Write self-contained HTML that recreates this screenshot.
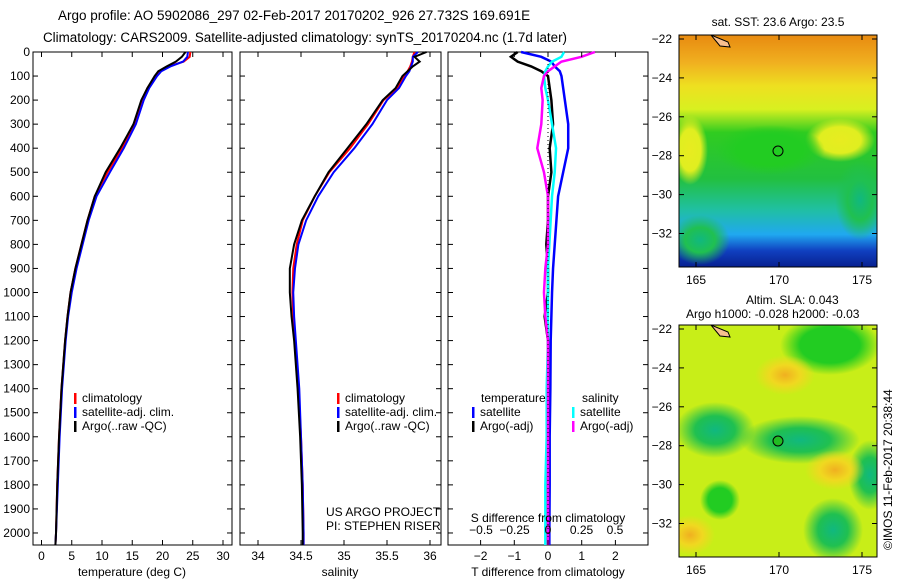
<!DOCTYPE html>
<html><head><meta charset="utf-8">
<style>
body{margin:0;background:#fff;width:900px;height:580px;overflow:hidden;font-family:"Liberation Sans",sans-serif}
svg text{font-family:"Liberation Sans",sans-serif;font-size:12px;fill:#000}
</style></head>
<body>
<svg id="chart" width="900" height="580" xmlns="http://www.w3.org/2000/svg">
<defs>
<linearGradient id="sstg" x1="0" y1="0" x2="0" y2="1">
<stop offset="0" stop-color="#e88a10"/><stop offset="0.12" stop-color="#f0b020"/><stop offset="0.22" stop-color="#eee020"/>
<stop offset="0.32" stop-color="#d8f020"/><stop offset="0.42" stop-color="#30cc20"/><stop offset="0.62" stop-color="#22c040"/>
<stop offset="0.75" stop-color="#20c0a0"/><stop offset="0.86" stop-color="#20a8f0"/><stop offset="0.93" stop-color="#1040c0"/><stop offset="1" stop-color="#082090"/>
</linearGradient>
<radialGradient id="gg"><stop offset="0" stop-color="#10b880"/><stop offset="0.5" stop-color="#20c050"/><stop offset="1" stop-color="#20c050" stop-opacity="0"/></radialGradient>
<radialGradient id="yy"><stop offset="0" stop-color="#f0b020"/><stop offset="0.5" stop-color="#f0d820"/><stop offset="1" stop-color="#f0d820" stop-opacity="0"/></radialGradient>
<radialGradient id="ly"><stop offset="0" stop-color="#e8ec20"/><stop offset="0.6" stop-color="#e0ee20"/><stop offset="1" stop-color="#e0ee20" stop-opacity="0"/></radialGradient>
<radialGradient id="lg"><stop offset="0" stop-color="#22cc22"/><stop offset="0.6" stop-color="#22cc22"/><stop offset="1" stop-color="#22cc22" stop-opacity="0"/></radialGradient>
<clipPath id="c1"><rect x="679" y="35" width="198" height="232"/></clipPath>
<clipPath id="c2"><rect x="679" y="325" width="198" height="232"/></clipPath>
</defs>
<text x="58" y="20" style="font-size:13.5px">Argo profile: AO 5902086_297 02-Feb-2017 20170202_926 27.732S 169.691E</text>
<text x="43" y="42" style="font-size:13.4px">Climatology: CARS2009. Satellite-adjusted climatology: synTS_20170204.nc (1.7d later)</text>

<g clip-path="url(#c1)">
<rect x="679" y="35" width="198" height="232" fill="url(#sstg)"/>
<ellipse cx="690" cy="150" rx="18" ry="35" fill="url(#ly)"/>
<ellipse cx="840" cy="140" rx="35" ry="22" fill="url(#ly)"/>
<ellipse cx="770" cy="150" rx="55" ry="25" fill="url(#lg)"/>
<ellipse cx="700" cy="240" rx="30" ry="25" fill="url(#gg)"/>
<ellipse cx="860" cy="200" rx="25" ry="40" fill="url(#gg)"/>
<path d="M711 35 L728 42 L730 47 L720 46 Z" fill="#f8c090" stroke="#000"/>
<circle cx="778" cy="151" r="5" fill="none" stroke="#000"/>
</g>
<rect x="679" y="35" width="198" height="232" fill="none" stroke="#000"/>
<text x="778" y="26" text-anchor="middle">sat. SST: 23.6  Argo: 23.5</text>

<g clip-path="url(#c2)">
<rect x="679" y="325" width="198" height="232" fill="#c8ee18"/>
<ellipse cx="715" cy="430" rx="40" ry="28" fill="url(#gg)"/>
<ellipse cx="800" cy="440" rx="60" ry="24" fill="url(#gg)"/>
<ellipse cx="830" cy="345" rx="50" ry="30" fill="url(#lg)"/>
<ellipse cx="870" cy="475" rx="22" ry="35" fill="url(#gg)"/>
<ellipse cx="833" cy="530" rx="30" ry="32" fill="url(#gg)"/>
<ellipse cx="720" cy="500" rx="20" ry="20" fill="url(#lg)"/>
<ellipse cx="785" cy="375" rx="30" ry="20" fill="url(#yy)"/>
<ellipse cx="835" cy="470" rx="30" ry="20" fill="url(#yy)"/>
<ellipse cx="690" cy="535" rx="25" ry="20" fill="url(#yy)"/>
<path d="M711 325 L728 332 L730 337 L720 336 Z" fill="#f8c090" stroke="#000"/>
<circle cx="778" cy="441" r="5" fill="#22bb22" stroke="#000"/>
</g>
<rect x="679" y="325" width="198" height="232" fill="none" stroke="#000"/>
<text x="746" y="304">Altim. SLA: 0.043</text>
<text x="686" y="318">Argo h1000: -0.028 h2000: -0.03</text>
<text transform="translate(892,550) rotate(-90)">©IMOS 11-Feb-2017 20:38:44</text>

<g id="plots"></g>
</svg>
<script>
// shared depth levels (m)
const depths=[0,20,40,60,80,100,150,200,300,400,500,600,700,800,900,1000,1100,1200,1400,1600,1800,2000,2050];
// temperature (deg C)
const tempClim=[24.6,24.5,23.5,21.0,19.5,18.8,17.5,16.6,15.3,13.3,10.9,8.8,7.6,6.6,5.6,4.8,4.3,3.9,3.3,2.9,2.6,2.4,2.3];
const tempSat=[24.2,24.1,23.4,21.3,19.8,19.1,17.8,16.9,15.6,13.6,11.3,9.1,7.8,6.8,5.8,5.0,4.4,4.0,3.4,3.0,2.7,2.4,2.3];
const tempArgo=[23.8,23.2,22.2,20.7,19.3,18.7,17.5,16.5,15.2,13.0,10.6,8.8,7.6,6.6,5.6,4.8,4.3,3.9,3.3,2.9,2.6,2.4,2.3];
// salinity (PSU)
const salClim=[35.82,35.80,35.79,35.77,35.74,35.70,35.62,35.46,35.28,35.07,34.83,34.66,34.52,34.45,34.41,34.40,34.41,34.43,34.47,34.50,34.52,34.53,34.53];
const salSat=[35.86,35.80,35.80,35.78,35.76,35.72,35.64,35.50,35.33,35.12,34.88,34.70,34.56,34.47,34.43,34.41,34.42,34.44,34.48,34.50,34.52,34.53,34.53];
const salArgo=[35.96,35.82,35.88,35.80,35.74,35.68,35.60,35.45,35.26,35.04,34.82,34.66,34.51,34.42,34.37,34.37,34.39,34.42,34.46,34.49,34.51,34.52,34.52];
// differences from climatology
const dTSat=[-0.8,-0.2,0.1,0.2,0.35,0.4,0.45,0.5,0.6,0.6,0.45,0.3,0.25,0.2,0.15,0.12,0.1,0.08,0.07,0.05,0.05,0.04,0.04];
const dTArgo=[-0.9,-1.1,-0.9,-0.5,-0.2,0.0,0.05,0.1,0.15,0.05,0.1,0.0,0.0,-0.05,0.0,0.0,-0.1,0.0,0.0,0.0,0.0,0.0,0.0];
const dSSat=[0.12,0.10,0.03,0.0,-0.02,-0.03,-0.02,0.0,0.03,0.06,0.05,0.03,0.02,0.01,0.0,0.0,0.0,0.0,-0.01,-0.01,-0.02,-0.02,-0.02];
const dSArgo=[0.35,0.25,0.1,0.05,0.0,-0.03,-0.05,-0.04,-0.05,-0.08,-0.03,0.0,0.0,0.0,-0.02,-0.03,-0.02,0.0,0.0,0.0,0.0,0.0,0.0];
// tick labels
const depthTicks=[0,100,200,300,400,500,600,700,800,900,1000,1100,1200,1300,1400,1500,1600,1700,1800,1900,2000];
const tempTicks=[0,5,10,15,20,25,30];
const salTicks=[34,34.5,35,35.5,36];
const dTTicks=[-2,-1,0,1,2];
const dSTicks=[-0.5,-0.25,0,0.25,0.5];

const NS="http://www.w3.org/2000/svg";
const root=document.getElementById('plots');
const Y0=52,Y1=545;
function y(d){return Y0+(d/2050)*(Y1-Y0);}
function mk(tag,attrs,parent){const e=document.createElementNS(NS,tag);for(const k in attrs)e.setAttribute(k,attrs[k]);(parent||root).appendChild(e);return e;}
function txt(s,x,yy,anchor,parent){const t=mk('text',{x:x,y:yy,'text-anchor':anchor||'start'},parent);t.textContent=s;return t;}

function frame(x0,x1,name){
  const r=mk('rect',{x:x0,y:Y0,width:x1-x0,height:Y1-Y0,fill:'none',stroke:'#000'});
  
  
  depthTicks.forEach(d=>{
    mk('line',{x1:x0,x2:x0+5,y1:y(d),y2:y(d),stroke:'#000'});
    mk('line',{x1:x1-5,x2:x1,y1:y(d),y2:y(d),stroke:'#000'});
  });
}
function line(xs,xf,color,name,w){
  const p=mk('polyline',{points:xs.map((v,i)=>xf(v)+','+y(depths[i])).join(' '),fill:'none',stroke:color,'stroke-width':w||2});
  
  
}
function xticks(ticks,xf,ty,name,bottom){
  const g=mk('g',{});
  
  
  ticks.forEach(t=>{
    const X=xf(t);
    if(bottom){mk('line',{x1:X,x2:X,y1:Y1,y2:Y1-5,stroke:'#000'},g);mk('line',{x1:X,x2:X,y1:Y0,y2:Y0+5,stroke:'#000'},g);}
    txt(String(t).replace('-','\u2212'),X,ty,'middle',g);
  });
}

// panel 1: temperature
const xT=v=>41.5+v*6.05;
frame(33,232,'temperature-panel');
const yl=mk('g',{});


depthTicks.forEach(d=>txt(String(d),30,y(d)+4,'end',yl));
line(tempClim,xT,'#ff0000','temp-climatology-line');
line(tempSat,xT,'#0000ff','temp-satellite-line');
line(tempArgo,xT,'#000000','temp-argo-line');
xticks(tempTicks,xT,560,'temperature-x-ticks',true);
txt('temperature (deg C)',132,576,'middle');

// panel 2: salinity
const xS=v=>258+(v-34)*86;
frame(240,441,'salinity-panel');
line(salClim,xS,'#ff0000','sal-climatology-line');
line(salSat,xS,'#0000ff','sal-satellite-line');
line(salArgo,xS,'#000000','sal-argo-line');
xticks(salTicks,xS,560,'salinity-x-ticks',true);
txt('salinity',340,576,'middle');
txt('US ARGO PROJECT',326,516);
txt('PI: STEPHEN RISER',326,530);

// panel 3: differences
const xD=v=>548+v*33.7;
const xDS=v=>548+v*134;
frame(448,648,'difference-panel');
line(dTSat,xD,'#0000ff','dT-satellite-line',2.5);
line(dTArgo,xD,'#000000','dT-argo-line',2.5);
line(dSSat,xDS,'#00ffff','dS-satellite-line',2.5);
line(dSArgo,xDS,'#ff00ff','dS-argo-line',2.5);
mk('line',{x1:548,x2:548,y1:Y0,y2:Y1,stroke:'#000','stroke-dasharray':'1 3'});
xticks(dTTicks,xD,560,'dT-x-ticks',true);
xticks(dSTicks,xDS,534,'dS-x-ticks',false);
txt('S difference from climatology',548,522,'middle');
txt('T difference from climatology',548,576,'middle');

// legends
function legend(x,yy,items,name){
  const g=mk('g',{});
  
  
  items.forEach((it,i)=>{
    const Y=yy+i*14;
    if(it[1])mk('rect',{x:x,y:Y-9,width:2.5,height:11,fill:it[1]},g);
    txt(it[0],x+(it[2]||8),Y,'start',g);
  });
}
legend(74,402,[['climatology','#ff0000'],['satellite-adj. clim.','#0000ff'],['Argo(..raw -QC)','#000']],'temperature-legend');
legend(337,402,[['climatology','#ff0000'],['satellite-adj. clim.','#0000ff'],['Argo(..raw -QC)','#000']],'salinity-legend');
legend(472,402,[['temperature',null,9],['satellite','#0000ff'],['Argo(-adj)','#000']],'dT-legend');
legend(572,402,[['salinity',null,10],['satellite','#00ffff'],['Argo(-adj)','#ff00ff']],'dS-legend');

// map axes
function mapAxes(top,name){
  const g=mk('g',{});
  
  
  [-22,-24,-26,-28,-30,-32].forEach((la,i)=>{
    const Y=top+4+i*38.9;
    txt(String(la).replace('-','\u2212'),672,Y+4,'end',g);
    mk('line',{x1:679,x2:684,y1:Y,y2:Y,stroke:'#000'},g);
    mk('line',{x1:872,x2:877,y1:Y,y2:Y,stroke:'#000'},g);
  });
  [165,170,175].forEach((lo,i)=>{
    const X=696+i*83;
    txt(String(lo),X,top+249,'middle',g);
    mk('line',{x1:X,x2:X,y1:top,y2:top+5,stroke:'#000'},g);
    mk('line',{x1:X,x2:X,y1:top+232,y2:top+227,stroke:'#000'},g);
  });
}
mapAxes(35,'sst-map-axes');
mapAxes(325,'sla-map-axes');
</script>
</body></html>
